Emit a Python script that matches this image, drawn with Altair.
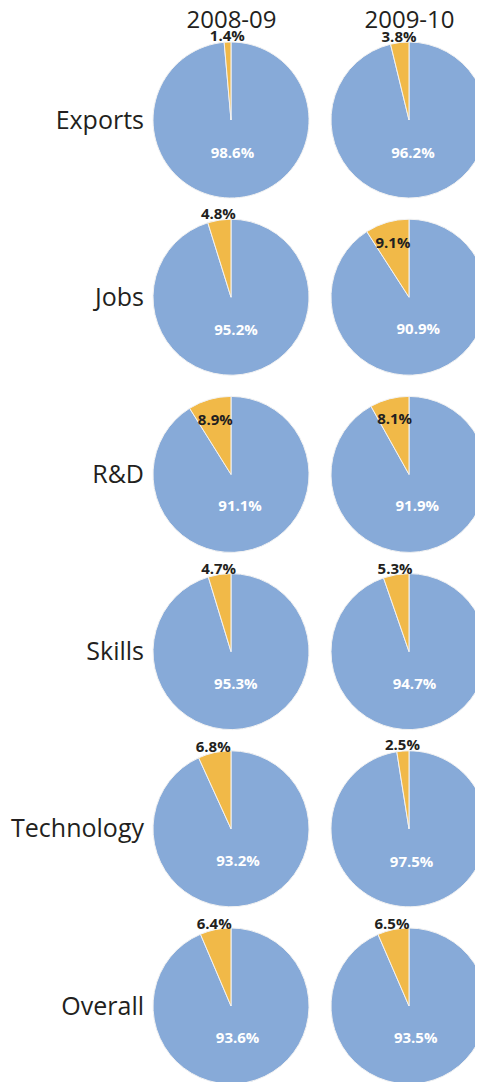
import altair as alt
import pandas as pd

metrics = ["Exports", "Jobs", "R&D", "Skills", "Technology", "Overall"]
years = ["2008-09", "2009-10"]
categories = ["Rest", "Share"]
rest_0809 = [98.6, 95.2, 91.1, 95.3, 93.2, 93.6]
share_0809 = [1.4, 4.8, 8.9, 4.7, 6.8, 6.4]
rest_0910 = [96.2, 90.9, 91.9, 94.7, 97.5, 93.5]
share_0910 = [3.8, 9.1, 8.1, 5.3, 2.5, 6.5]

records = []
for i, m in enumerate(metrics):
    for y, rest, share in [(years[0], rest_0809, share_0809), (years[1], rest_0910, share_0910)]:
        records.append({"metric": m, "year": y, "category": categories[0], "order": 0, "value": rest[i]})
        records.append({"metric": m, "year": y, "category": categories[1], "order": 1, "value": share[i]})
df = pd.DataFrame(records)

FONT = "Open Sans"
TEXT = "#231f20"

base = alt.Chart(df).transform_window(
    cum="sum(value)", groupby=["metric", "year"], sort=[alt.SortField("order")], frame=[None, 0]
).transform_calculate(
    start="datum.cum - datum.value",
    mid="datum.cum - datum.value / 2",
    label="format(datum.value, '.1f') + '%'",
    lr="datum.value >= 8 ? 57 : 84",
)

x_enc = alt.X(
    "year:N",
    scale=alt.Scale(type="point", domain=years, padding=0.4045, align=0.5417),
    axis=alt.Axis(orient="top", title=None, labelAngle=0, labelFont=FONT, labelFontSize=24,
                  labelColor=TEXT, labelPadding=21, labelBaseline="alphabetic",
                  domain=False, ticks=False, tickSize=0),
)
y_enc = alt.Y(
    "metric:N",
    scale=alt.Scale(type="point", domain=metrics, padding=0.4176, align=0.4865),
    axis=alt.Axis(orient="left", title=None, labelFont=FONT, labelFontSize=25,
                  labelColor=TEXT, labelPadding=9.5, labelAlign="right", labelBaseline="middle",
                  domain=False, ticks=False, tickSize=0),
)
theta_scale = alt.Scale(domain=[0, 100])

arcs = base.mark_arc(outerRadius=78, stroke="#f2f2f2", strokeWidth=1).encode(
    x=x_enc,
    y=y_enc,
    theta=alt.Theta("start:Q", stack=False, scale=theta_scale),
    theta2="cum:Q",
    color=alt.Color("category:N", scale=alt.Scale(domain=categories, range=["#87aad8", "#f1b948"]), legend=None),
)

big = base.transform_filter("datum.category == 'Rest'").mark_text(
    radius=33, font=FONT, fontSize=15, fontWeight="bold", color="white", baseline="middle", align="center"
).encode(
    x=x_enc, y=y_enc,
    theta=alt.Theta("mid:Q", stack=False, scale=theta_scale),
    text="label:N",
)

small = base.transform_filter("datum.category == 'Share'").mark_text(
    font=FONT, fontSize=15, fontWeight="bold", color=TEXT, baseline="middle", align="center"
).encode(
    x=x_enc, y=y_enc,
    theta=alt.Theta("mid:Q", stack=False, scale=theta_scale),
    radius=alt.Radius("lr:Q", scale=None),
    text="label:N",
)

chart = alt.layer(arcs, big, small).properties(
    width=322, height=1034,
    padding={"left": 145, "top": 40, "right": 0, "bottom": 0},
    autosize=alt.AutoSizeParams(type="none"),
).configure_view(strokeWidth=0)

chart.save("out.html", embed_options={"renderer": "svg", "actions": False})
